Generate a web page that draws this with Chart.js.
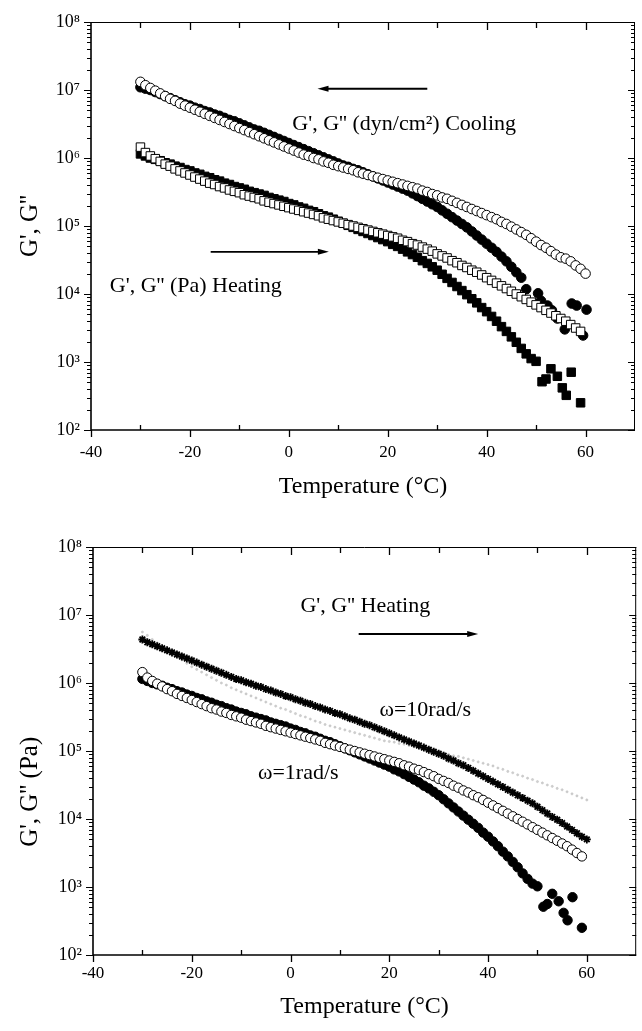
<!DOCTYPE html>
<html><head><meta charset="utf-8">
<script src="https://cdn.jsdelivr.net/npm/chart.js@4.4.0/dist/chart.umd.min.js"></script>
<style>
html,body{margin:0;padding:0;background:#fff;}
#wrap{position:relative;width:642px;height:1031px;overflow:hidden;background:#fff;}
canvas{position:absolute;left:0;}
#c1{top:0;}
#c2{top:515px;}
</style></head><body>
<div id="wrap"><canvas id="c1" width="642" height="515"></canvas><canvas id="c2" width="642" height="516"></canvas></div>
<script>
// ---------- DATA (temperatures in °C, moduli given as log10 of the value) ----------
const temps = [-30,-29,-28,-27,-26,-25,-24,-23,-22,-21,-20,-19,-18,-17,-16,-15,-14,-13,-12,-11,-10,-9,-8,-7,-6,-5,-4,-3,-2,-1,0,1,2,3,4,5,6,7,8,9,10,11,12,13,14,15,16,17,18,19,20,21,22,23,24,25,26,27,28,29,30,31,32,33,34,35,36,37,38,39,40,41,42,43,44,45,46,47,48,49,50,51,52,53,54,55,56,57,58,59,60];

// Top chart: cooling, dyn/cm^2
const coolGppLog = [7.12,7.07,7.03,6.99,6.95,6.91,6.87,6.84,6.80,6.77,
 6.74,6.71,6.68,6.65,6.62,6.59,6.56,6.53,6.50,6.47,
 6.44,6.41,6.38,6.35,6.32,6.29,6.26,6.23,6.20,6.17,
 6.14,6.11,6.08,6.05,6.03,6.00,5.98,5.95,5.93,5.90,
 5.88,5.86,5.84,5.82,5.79,5.77,5.75,5.73,5.71,5.69,
 5.67,5.65,5.63,5.61,5.59,5.57,5.55,5.52,5.50,5.47,
 5.45,5.42,5.40,5.37,5.34,5.31,5.28,5.25,5.22,5.19,
 5.16,5.13,5.10,5.06,5.03,4.99,4.95,4.91,4.87,4.82,
 4.77,4.72,4.68,4.63,4.58,4.54,4.52,4.48,4.42,4.37,
 4.30];
const coolGpLog = [7.04,7.02,7.00,6.97,6.94,6.91,6.88,6.85,6.82,6.79,
 6.77,6.74,6.72,6.69,6.67,6.64,6.62,6.59,6.56,6.54,
 6.51,6.48,6.45,6.42,6.40,6.37,6.34,6.31,6.28,6.25,
 6.22,6.19,6.16,6.13,6.10,6.07,6.04,6.01,5.98,5.95,
 5.92,5.89,5.87,5.84,5.82,5.79,5.76,5.73,5.70,5.67,
 5.64,5.61,5.58,5.55,5.52,5.48,5.44,5.40,5.36,5.32,
 5.28,5.23,5.18,5.13,5.08,5.03,4.98,4.92,4.86,4.80,
 4.74,4.68,4.62,4.55,4.48,4.40,4.32,4.24];
const coolGpTailT   = [48.0,50.4,51.0,52.3,53.2,54.3,55.8,57.2,58.2,59.5,60.2];
const coolGpTailLog = [4.07,4.01,3.90,3.83,3.76,3.64,3.48,3.86,3.83,3.39,3.77];

// Heating, Pa (omega = 1 rad/s) – shown in both charts
const heatGpLog = [6.06,6.03,6.00,5.98,5.96,5.93,5.91,5.88,5.86,5.83,
 5.81,5.78,5.76,5.73,5.71,5.68,5.66,5.63,5.61,5.58,
 5.56,5.54,5.51,5.49,5.47,5.45,5.42,5.40,5.38,5.36,
 5.33,5.31,5.28,5.26,5.23,5.21,5.18,5.15,5.13,5.10,
 5.07,5.04,5.01,4.98,4.95,4.92,4.89,4.86,4.83,4.80,
 4.77,4.73,4.70,4.66,4.62,4.58,4.54,4.49,4.45,4.40,
 4.35,4.29,4.23,4.17,4.11,4.05,3.99,3.93,3.87,3.80,
 3.74,3.67,3.60,3.52,3.45,3.37,3.29,3.20,3.12,3.05,
 3.01];
const heatGpTailT   = [51.2,52.0,53.0,54.3,55.3,56.1,57.1,59.0];
const heatGpTailLog = [2.71,2.75,2.90,2.79,2.62,2.51,2.85,2.40];
const heatGppLog = [6.16,6.08,6.03,5.99,5.95,5.91,5.88,5.84,5.81,5.78,
 5.75,5.72,5.69,5.66,5.63,5.61,5.58,5.56,5.53,5.51,
 5.49,5.46,5.44,5.42,5.40,5.37,5.35,5.33,5.31,5.29,
 5.27,5.25,5.23,5.21,5.19,5.17,5.15,5.12,5.10,5.08,
 5.06,5.04,5.02,5.00,4.98,4.96,4.94,4.92,4.90,4.88,
 4.86,4.84,4.82,4.79,4.77,4.74,4.72,4.69,4.66,4.63,
 4.59,4.56,4.53,4.49,4.46,4.42,4.39,4.35,4.32,4.28,
 4.24,4.20,4.16,4.12,4.08,4.04,4.00,3.96,3.92,3.88,
 3.84,3.80,3.76,3.72,3.68,3.64,3.60,3.55,3.50,3.45];

// Bottom chart: heating at omega = 10 rad/s
const w10GpLog = [6.64,6.60,6.57,6.54,6.51,6.48,6.45,6.42,6.39,6.36,
 6.33,6.30,6.27,6.24,6.21,6.18,6.15,6.12,6.09,6.06,
 6.04,6.01,5.99,5.96,5.94,5.91,5.89,5.86,5.84,5.81,
 5.79,5.76,5.74,5.71,5.69,5.66,5.64,5.61,5.59,5.56,
 5.54,5.51,5.48,5.46,5.43,5.40,5.38,5.35,5.32,5.29,
 5.26,5.23,5.20,5.17,5.14,5.11,5.08,5.05,5.02,4.99,
 4.96,4.93,4.89,4.86,4.82,4.79,4.75,4.71,4.67,4.63,
 4.59,4.55,4.51,4.47,4.43,4.39,4.35,4.31,4.27,4.23,
 4.18,4.13,4.08,4.03,3.99,3.94,3.89,3.84,3.79,3.74,
 3.70];
const w10GppLog = [6.75,6.70,6.64,6.59,6.54,6.49,6.44,6.39,6.34,6.29,
 6.24,6.20,6.16,6.12,6.08,6.04,6.00,5.97,5.93,5.90,
 5.87,5.84,5.81,5.78,5.75,5.72,5.69,5.66,5.63,5.61,
 5.58,5.55,5.52,5.50,5.47,5.44,5.42,5.39,5.37,5.35,
 5.33,5.31,5.29,5.27,5.25,5.23,5.21,5.19,5.17,5.15,
 5.14,5.13,5.11,5.10,5.08,5.06,5.05,5.03,5.02,5.00,
 4.99,4.97,4.95,4.93,4.92,4.90,4.88,4.86,4.84,4.82,
 4.80,4.78,4.75,4.73,4.70,4.68,4.65,4.63,4.60,4.58,
 4.55,4.53,4.50,4.48,4.45,4.43,4.40,4.37,4.34,4.31,
 4.28];

// Axis ticks
const xTickStep = 20;
const yTickValues = [1e2,1e3,1e4,1e5,1e6,1e7,1e8];
const yTickLabels = ['10\u00B2','10\u00B3','10\u2074','10\u2075','10\u2076','10\u2077','10\u2078'];

// ---------- helpers ----------
const pts = (ts, logs) => logs.map((l, i) => ({x: ts[i], y: Math.pow(10, l)}));
const FONT = "'Liberation Serif', 'Times New Roman', serif";
Chart.defaults.font.family = FONT;
Chart.defaults.color = '#000';

const framePlugin = {
  id: 'frame',
  afterDraw(chart) {
    const {ctx, chartArea: a, scales: {x, y}} = chart;
    ctx.save();
    ctx.strokeStyle = '#000';
    ctx.lineWidth = 1;
    ctx.beginPath();
    ctx.moveTo(a.left, a.top + 0.5); ctx.lineTo(a.right, a.top + 0.5);
    ctx.moveTo(a.right - 0.5, a.top); ctx.lineTo(a.right - 0.5, a.bottom);
    ctx.stroke();
    ctx.lineWidth = 1.6;
    ctx.beginPath();
    ctx.moveTo(a.left, a.top); ctx.lineTo(a.left, a.bottom); ctx.lineTo(a.right, a.bottom);
    ctx.stroke();
    // x ticks
    ctx.lineWidth = 1.3;
    ctx.beginPath();
    for (let t = x.min; t < x.max; t += 10) {
      const px = Math.round(x.getPixelForValue(t)) + 0.5;
      const major = (t % 20 === 0);
      if (major) { ctx.moveTo(px, a.bottom); ctx.lineTo(px, a.bottom + 7); }
      else { ctx.moveTo(px, a.bottom); ctx.lineTo(px, a.bottom - 5); }
      if (t > x.min) { ctx.moveTo(px, a.top); ctx.lineTo(px, a.top + (major ? 8 : 6)); }
    }
    ctx.stroke();
    // y ticks (decades + minor)
    ctx.lineWidth = 1;
    ctx.beginPath();
    for (let e = 2; e <= 8; e++) {
      for (let m = 1; m <= 9; m++) {
        if (e === 8 && m > 1) break;
        const py = Math.round(y.getPixelForValue(m * Math.pow(10, e))) + 0.5;
        const len = m === 1 ? 7 : 4;
        ctx.moveTo(a.left - len, py); ctx.lineTo(a.left, py);
        ctx.moveTo(a.right - len, py); ctx.lineTo(a.right, py);
      }
    }
    ctx.stroke();
    ctx.restore();
  }
};

const notesPlugin = {
  id: 'notes',
  afterDraw(chart, args, opts) {
    const {ctx, scales: {x, y}} = chart;
    ctx.save();
    ctx.fillStyle = '#000';
    ctx.strokeStyle = '#000';
    (opts.arrows || []).forEach(ar => {
      const x1 = x.getPixelForValue(ar.from), x2 = x.getPixelForValue(ar.to);
      const py = y.getPixelForValue(ar.at);
      const dir = Math.sign(x2 - x1);
      ctx.lineWidth = ar.width || 2;
      ctx.beginPath(); ctx.moveTo(x1, py); ctx.lineTo(x2 - dir * 8, py); ctx.stroke();
      ctx.beginPath();
      ctx.moveTo(x2, py); ctx.lineTo(x2 - dir * 11, py - 3); ctx.lineTo(x2 - dir * 11, py + 3); ctx.closePath();
      ctx.fill();
    });
    (opts.texts || []).forEach(tx => {
      ctx.font = (tx.size || 22) + 'px ' + FONT;
      ctx.textAlign = 'left';
      ctx.textBaseline = 'middle';
      ctx.fillText(tx.text, x.getPixelForValue(tx.x), y.getPixelForValue(tx.y));
    });
    if (opts.yTitle) {
      const t = opts.yTitle;
      ctx.translate(t.cx, y.getPixelForValue(t.at));
      ctx.rotate(-Math.PI / 2);
      ctx.font = t.size + 'px ' + FONT;
      ctx.textAlign = 'center';
      ctx.textBaseline = 'middle';
      ctx.fillText(t.text, 0, 0);
    }
    ctx.restore();
  }
};

function makeOptions(cfg) {
  return {
    responsive: false,
    animation: false,
    events: [],
    layout: {padding: {top: cfg.top, right: 1, left: 0, bottom: 0}},
    plugins: {
      legend: {display: false},
      tooltip: {enabled: false},
      notes: cfg.notes
    },
    scales: {
      x: {
        type: 'linear', position: 'bottom', min: -40, max: 70,
        afterFit(s) { s.height = cfg.canvasH - cfg.bottom; },
        grid: {display: false, drawTicks: false},
        border: {display: false},
        ticks: {stepSize: xTickStep, includeBounds: false, autoSkip: false, maxRotation: 0,
                padding: cfg.xPad, font: {size: 17}, color: '#000'},
        title: {display: true, text: 'Temperature (\u00B0C)', font: {size: 24}, color: '#000',
                padding: {top: 0, bottom: cfg.xTitlePad}}
      },
      y: {
        type: 'logarithmic', position: 'left', min: 1e2, max: 1e8,
        afterFit(s) { s.width = cfg.left; },
        afterBuildTicks(s) { s.ticks = yTickValues.map(v => ({value: v})); },
        grid: {display: false, drawTicks: false},
        border: {display: false},
        ticks: {autoSkip: false, padding: 11, font: {size: 18}, color: '#000',
                callback: (v) => { const i = yTickValues.indexOf(v); return i >= 0 ? yTickLabels[i] : ''; }},
        title: {display: false}
      }
    }
  };
}

const openStyle = {backgroundColor: '#fff', borderColor: '#000', borderWidth: 1};
const fillStyle = {backgroundColor: '#000', borderColor: '#000', borderWidth: 1};

// ---------- Top chart ----------
new Chart(document.getElementById('c1'), {
  type: 'scatter',
  data: {datasets: [
    Object.assign({label: "G'' cooling", data: pts(temps, coolGppLog), pointStyle: 'circle', pointRadius: 4.8}, openStyle),
    Object.assign({label: "G'' heating", data: pts(temps, heatGppLog), pointStyle: 'rect', pointRadius: 6}, openStyle),
    Object.assign({label: "G' cooling", data: pts(temps, coolGpLog).concat(pts(coolGpTailT, coolGpTailLog)), pointStyle: 'circle', pointRadius: 4.8}, fillStyle),
    Object.assign({label: "G' heating", data: pts(temps, heatGpLog).concat(pts(heatGpTailT, heatGpTailLog)), pointStyle: 'rect', pointRadius: 6}, fillStyle)
  ]},
  options: makeOptions({
    top: 22, left: 91, bottom: 430, canvasH: 515, xPad: 12, xTitlePad: 14,
    notes: {
      yTitle: {text: "G', G''", cx: 30, at: Math.pow(10, 5.0), size: 25},
      arrows: [{from: 28, to: 5.8, at: Math.pow(10, 7.02), width: 2}, {from: -15.8, to: 8.1, at: Math.pow(10, 4.62), width: 1.8}],
      texts: [{text: "G', G'' (dyn/cm\u00B2) Cooling", x: 0.7, y: Math.pow(10, 6.50)},
              {text: "G', G'' (Pa) Heating", x: -36.2, y: Math.pow(10, 4.11)}]
    }
  }),
  plugins: [framePlugin, notesPlugin]
});

// ---------- Bottom chart ----------
new Chart(document.getElementById('c2'), {
  type: 'scatter',
  data: {datasets: [
    Object.assign({label: "G'' 1 rad/s", data: pts(temps, heatGppLog), pointStyle: 'circle', pointRadius: 4.7}, openStyle),
    Object.assign({label: "G' 1 rad/s", data: pts(temps, heatGpLog).concat(pts(heatGpTailT, heatGpTailLog)), pointStyle: 'circle', pointRadius: 4.7}, fillStyle),
    {label: "G' 10 rad/s", data: pts(temps, w10GpLog), pointStyle: 'star', pointRadius: 4, borderColor: '#000', backgroundColor: '#000', borderWidth: 1.8},
    {label: "G'' 10 rad/s", data: pts(temps, w10GppLog), pointStyle: 'circle', pointRadius: 1.1, borderColor: '#bdbdbd', backgroundColor: '#cfcfcf', borderWidth: 0.5}
  ]},
  options: makeOptions({
    top: 32, left: 93, bottom: 440, canvasH: 516, xPad: 8, xTitlePad: 10,
    notes: {
      yTitle: {text: "G', G'' (Pa)", cx: 30, at: Math.pow(10, 4.4), size: 25},
      arrows: [{from: 13.8, to: 38, at: Math.pow(10, 6.72), width: 2}],
      texts: [{text: "G', G'' Heating", x: 2.0, y: Math.pow(10, 7.125)},
              {text: "\u03C9=10rad/s", x: 18, y: Math.pow(10, 5.60)},
              {text: "\u03C9=1rad/s", x: -6.6, y: Math.pow(10, 4.68)}]
    }
  }),
  plugins: [framePlugin, notesPlugin]
});
</script>
</body></html>
